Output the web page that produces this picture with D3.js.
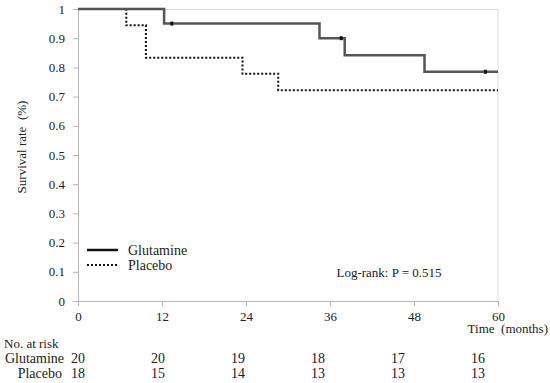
<!DOCTYPE html>
<html>
<head>
<meta charset="utf-8">
<script src="https://cdn.jsdelivr.net/npm/d3@7"></script>
<style>
  body { margin: 0; background: #fff; }
</style>
</head>
<body>
<svg id="chart" width="550" height="383"></svg>
<script>
// Kaplan-Meier steps: [time, survival]
const glutamineSteps = [[0, 1], [12.3, 0.95], [34.5, 0.9], [38.1, 0.842], [49.5, 0.785], [60, 0.785]];
const glutamineCensored = [[13.4, 0.95], [37.6, 0.9], [58.2, 0.785]];
const placeboSteps = [[0, 1], [6.9, 0.944], [9.7, 0.833], [23.5, 0.778], [28.6, 0.722], [60, 0.722]];

const xTicks = [0, 12, 24, 36, 48, 60];
const yTicks = [0, 0.1, 0.2, 0.3, 0.4, 0.5, 0.6, 0.7, 0.8, 0.9, 1];

const riskGroups = ['Glutamine', 'Placebo'];
const riskGlutamine = [20, 20, 19, 18, 17, 16];
const riskPlacebo = [18, 15, 14, 13, 13, 13];

const FONT = 'Liberation Serif, Times New Roman, serif';

const margin = { left: 78, right: 52, top: 9, bottom: 82 };
const width = 550, height = 383;
const plotW = width - margin.left - margin.right;
const plotH = height - margin.top - margin.bottom;

const svg = d3.select('#chart').attr('font-family', FONT);
const g = svg.append('g').attr('transform', `translate(${margin.left},${margin.top})`);

const x = d3.scaleLinear().domain([0, 60]).range([0, plotW]);
const y = d3.scaleLinear().domain([0, 1]).range([plotH, 0]);

// light frame on top and right
g.append('path')
  .attr('d', `M0,0.5H${plotW}V${plotH}`)
  .attr('fill', 'none')
  .attr('stroke', '#dcdcdc')
  .attr('stroke-width', 1);

// Y axis
const yAxis = g.append('g')
  .call(d3.axisLeft(y).tickValues(yTicks).tickSize(5).tickPadding(8)
    .tickFormat(d => d === 1 ? '1' : d === 0 ? '0' : d3.format('.1f')(d)))
  .attr('font-family', FONT)
  .attr('font-size', 13);
yAxis.select('.domain').attr('stroke', '#b5b5b5');
yAxis.selectAll('.tick line').attr('stroke', '#b5b5b5');
yAxis.selectAll('text').attr('fill', '#222');

// X axis
const xAxis = g.append('g')
  .attr('transform', `translate(0,${plotH})`)
  .call(d3.axisBottom(x).tickValues(xTicks).tickSize(5).tickPadding(6))
  .attr('font-family', FONT)
  .attr('font-size', 13);
xAxis.select('.domain').attr('stroke', '#b5b5b5');
xAxis.selectAll('.tick line').attr('stroke', '#b5b5b5');
xAxis.selectAll('text').attr('fill', '#222');

const line = d3.line()
  .x(d => x(d[0]))
  .y(d => y(d[1]))
  .curve(d3.curveStepAfter);

g.append('path')
  .datum(placeboSteps)
  .attr('d', line)
  .attr('fill', 'none')
  .attr('stroke', '#111')
  .attr('stroke-width', 2)
  .attr('stroke-dasharray', '2,2');

g.append('path')
  .datum(glutamineSteps)
  .attr('d', line)
  .attr('fill', 'none')
  .attr('stroke', '#555')
  .attr('stroke-width', 2.5);

g.selectAll('.censor')
  .data(glutamineCensored)
  .enter()
  .append('rect')
  .attr('class', 'censor')
  .attr('x', d => x(d[0]) - 1.5)
  .attr('y', d => y(d[1]) - 2)
  .attr('width', 3)
  .attr('height', 4)
  .attr('fill', '#111');

// Legend
const legend = g.append('g').attr('transform', 'translate(9,241)');
legend.append('line').attr('x1', 0).attr('x2', 31).attr('y1', 0).attr('y2', 0)
  .attr('stroke', '#111').attr('stroke-width', 2.5);
legend.append('line').attr('x1', 0).attr('x2', 31).attr('y1', 15).attr('y2', 15)
  .attr('stroke', '#111').attr('stroke-width', 2).attr('stroke-dasharray', '2,2');
legend.append('text').attr('x', 41).attr('y', 0).attr('dy', '0.35em')
  .attr('font-size', 14).attr('fill', '#222').text('Glutamine');
legend.append('text').attr('x', 41).attr('y', 15).attr('dy', '0.35em')
  .attr('font-size', 14).attr('fill', '#222').text('Placebo');

// Log-rank annotation
g.append('text')
  .attr('x', 311).attr('y', 263).attr('dy', '0.35em')
  .attr('text-anchor', 'middle')
  .attr('font-size', 13).attr('fill', '#222')
  .text('Log-rank: P = 0.515');

// Y label
svg.append('text')
  .attr('transform', 'translate(21,147) rotate(-90)')
  .attr('text-anchor', 'middle')
  .attr('dy', '0.35em')
  .attr('font-size', 13).attr('fill', '#222')
  .attr('xml:space', 'preserve')
  .text('Survival rate  (%)');

// X label
svg.append('text')
  .attr('x', 548).attr('y', 328).attr('dy', '0.35em')
  .attr('text-anchor', 'end')
  .attr('font-size', 13).attr('fill', '#222')
  .attr('xml:space', 'preserve')
  .text('Time  (months)');

// Number at risk table
const riskX = d3.scaleLinear().domain([0, 60]).range([78, 478]);
svg.append('text').attr('x', 4).attr('y', 343).attr('dy', '0.35em')
  .attr('font-size', 13).attr('fill', '#222').text('No. at risk');

const riskRows = [riskGlutamine, riskPlacebo];
riskRows.forEach((row, i) => {
  const ry = 358 + i * 15;
  svg.append('text').attr('x', i === 0 ? 64 : 62).attr('y', ry).attr('dy', '0.35em')
    .attr('text-anchor', 'end')
    .attr('font-size', 14).attr('fill', '#222').text(riskGroups[i]);
  svg.selectAll(`.risk${i}`)
    .data(row)
    .enter()
    .append('text')
    .attr('class', `risk${i}`)
    .attr('x', (d, j) => riskX(xTicks[j]))
    .attr('y', ry).attr('dy', '0.35em')
    .attr('text-anchor', 'middle')
    .attr('font-size', 14).attr('fill', '#222')
    .text(d => d);
});
</script>
</body>
</html>
